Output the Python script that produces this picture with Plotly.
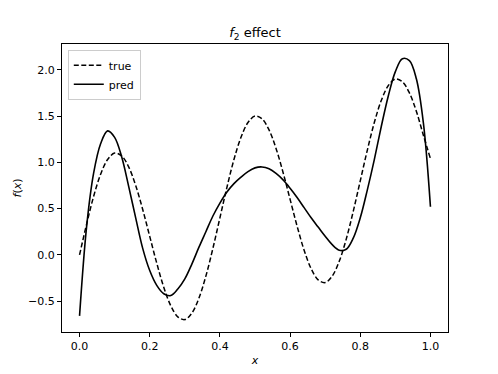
import plotly.graph_objects as go

# x grid shared by both curves (step 0.02)
x_vals = [round(i * 0.02, 2) for i in range(51)]

true_vals = [0.00, 0.33, 0.63, 0.87, 1.03, 1.10, 1.07, 0.95, 0.75, 0.49,
             0.20, -0.09, -0.35, -0.55, -0.67, -0.70, -0.63, -0.47, -0.23, 0.07,
             0.40, 0.73, 1.03, 1.27, 1.43, 1.50, 1.47, 1.35, 1.15, 0.89,
             0.60, 0.31, 0.05, -0.15, -0.27, -0.30, -0.23, -0.07, 0.17, 0.47,
             0.80, 1.13, 1.43, 1.67, 1.83, 1.90, 1.87, 1.75, 1.55, 1.29,
             1.04]

pred_vals = [-0.66, 0.30, 0.88, 1.20, 1.34, 1.27, 1.06, 0.74, 0.40, 0.07,
             -0.17, -0.33, -0.42, -0.44, -0.37, -0.26, -0.10, 0.08, 0.25, 0.42,
             0.56, 0.68, 0.77, 0.84, 0.90, 0.94, 0.95, 0.93, 0.88, 0.81,
             0.72, 0.62, 0.51, 0.40, 0.30, 0.20, 0.11, 0.05, 0.06, 0.18,
             0.40, 0.70, 1.03, 1.39, 1.72, 1.98, 2.12, 2.10, 1.90, 1.42,
             0.52]

x_ticks = [0.0, 0.2, 0.4, 0.6, 0.8, 1.0]
x_tick_text = ["0.0", "0.2", "0.4", "0.6", "0.8", "1.0"]
y_ticks = [-0.5, 0.0, 0.5, 1.0, 1.5, 2.0]
y_tick_text = ["\u22120.5", "0.0", "0.5", "1.0", "1.5", "2.0"]

fig = go.Figure()
fig.add_trace(go.Scatter(x=x_vals, y=true_vals, mode="lines", name="true",
                         line=dict(color="black", width=1.5, dash="5px,2.5px", shape="spline")))
fig.add_trace(go.Scatter(x=x_vals, y=pred_vals, mode="lines", name="pred",
                         line=dict(color="black", width=1.6, shape="spline")))

axis_style = dict(
    showline=True, linecolor="black", linewidth=1, mirror=True,
    ticks="outside", ticklen=4, tickwidth=1, tickcolor="black",
    showgrid=False, zeroline=False, automargin=False,
    tickfont=dict(family="DejaVu Sans", size=11, color="black"),
)

fig.update_layout(
    width=498, height=374,
    paper_bgcolor="white", plot_bgcolor="white",
    margin=dict(l=62, r=50, t=44, b=42, autoexpand=False),
    font=dict(family="DejaVu Sans", color="black"),
    title=dict(text="<i>f</i><sub>2</sub> effect", x=0.5, xanchor="center",
               xref="paper", yref="container", y=0.912, yanchor="middle",
               font=dict(size=13)),
    xaxis=dict(range=[-0.05, 1.05], tickvals=x_ticks, ticktext=x_tick_text,
               title=dict(text="<i>x</i>", font=dict(size=11), standoff=4), **axis_style),
    yaxis=dict(range=[-0.834, 2.279], tickvals=y_ticks, ticktext=y_tick_text,
               title=dict(text="<i>f</i>(<i>x</i>)", font=dict(size=11), standoff=4), **axis_style),
    legend=dict(x=0.015, y=0.98, xanchor="left", yanchor="top",
                bgcolor="white", bordercolor="#cccccc", borderwidth=1,
                font=dict(size=11), tracegroupgap=0, itemwidth=30),
    showlegend=True,
)

# drop the browser's default page margin so the figure sits at the top-left corner
fig.write_html("out.html", config={"displayModeBar": False},
               post_script="document.body.style.margin='0';document.body.style.overflow='hidden';")
